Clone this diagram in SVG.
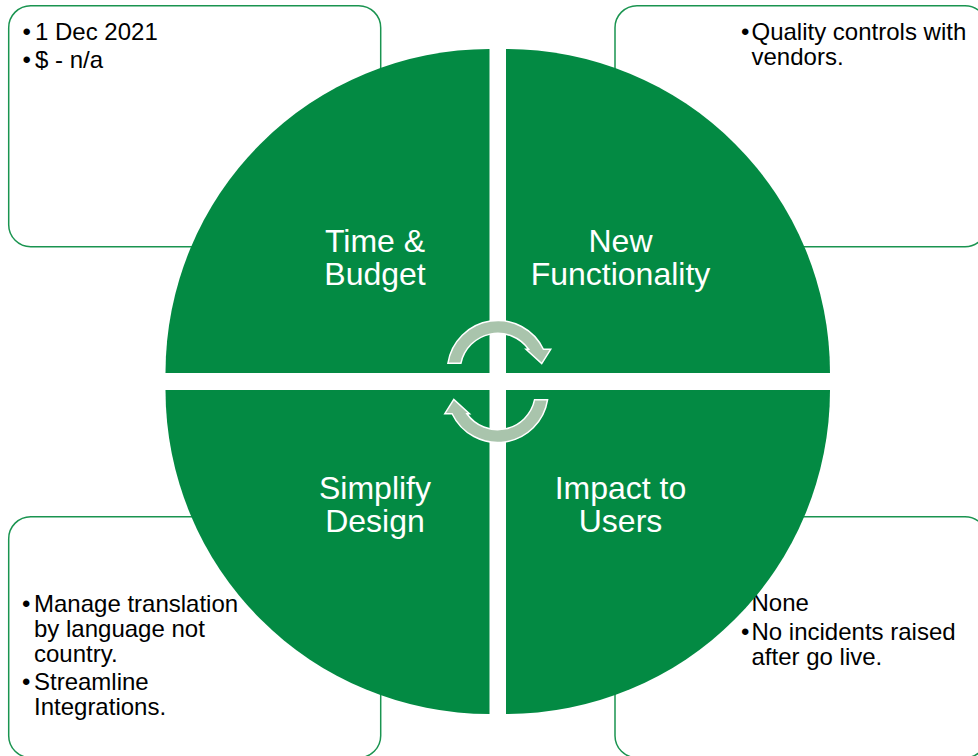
<svg xmlns="http://www.w3.org/2000/svg" width="978" height="756" viewBox="0 0 978 756">
  <style>
    .box { fill: #ffffff; stroke: #1a9450; stroke-width: 1.5; }
    .quad { fill: #038a43; }
    .label { font-family: "Liberation Sans", Arial, sans-serif; font-size: 32px; fill: #ffffff; text-anchor: middle; }
    .note { font-family: "Liberation Sans", Arial, sans-serif; font-size: 24px; fill: #000000; }
    .cycle { fill: #a9c4ac; stroke: #ffffff; stroke-width: 1.5; stroke-linejoin: miter; }
  </style>
  <defs>
    <path id="cycleArrow" d="M 447.9,363.3 A 50.5 50.5 0 0 1 543.4,349.3 L 550.7,349.3 L 541.7,363.6 L 526,349.3 L 528.6,349.3 A 37.7 37.7 0 0 0 460.9,363.3 Z"/>
  </defs>

  <!-- detail boxes (behind the circle) -->
  <g id="box-time-budget">
    <rect class="box" x="8.7" y="5.7" width="372" height="241" rx="22"/>
    <text class="note" x="22.5" y="40">•</text>
    <text class="note" x="35" y="40">1 Dec 2021</text>
    <text class="note" x="22.5" y="68">•</text>
    <text class="note" x="35" y="68">$ - n/a</text>
  </g>
  <g id="box-new-functionality">
    <rect class="box" x="615" y="5.7" width="372" height="241" rx="22"/>
    <text class="note" x="741" y="39.5">•</text>
    <text class="note" x="751.5" y="39.5">Quality controls with</text>
    <text class="note" x="751.5" y="64.5">vendors.</text>
  </g>
  <g id="box-simplify-design">
    <rect class="box" x="8.7" y="516.7" width="372" height="241" rx="22"/>
    <text class="note" x="22" y="611.5">•</text>
    <text class="note" x="34" y="611.5">Manage translation</text>
    <text class="note" x="34" y="636.5">by language not</text>
    <text class="note" x="34" y="661.5">country.</text>
    <text class="note" x="22" y="690">•</text>
    <text class="note" x="34" y="690">Streamline</text>
    <text class="note" x="34" y="715">Integrations.</text>
  </g>
  <g id="box-impact-users">
    <rect class="box" x="615" y="516.7" width="372" height="241" rx="22"/>
    <text class="note" x="741" y="611">•</text>
    <text class="note" x="751.5" y="611">None</text>
    <text class="note" x="741" y="639.5">•</text>
    <text class="note" x="751.5" y="639.5">No incidents raised</text>
    <text class="note" x="751.5" y="664.5">after go live.</text>
  </g>

  <!-- quadrants of the circle -->
  <g id="quad-time-budget">
    <path class="quad" d="M 489.5,373 L 165.5,373 A 324 324 0 0 1 489.5,49 Z"/>
    <text class="label" x="375" y="252">Time &amp;</text>
    <text class="label" x="375" y="285">Budget</text>
  </g>
  <g id="quad-new-functionality">
    <path class="quad" d="M 506,373 L 506,49 A 324 324 0 0 1 830,373 Z"/>
    <text class="label" x="620.5" y="252">New</text>
    <text class="label" x="620.5" y="285">Functionality</text>
  </g>
  <g id="quad-impact-users">
    <path class="quad" d="M 506,390 L 830,390 A 324 324 0 0 1 506,714 Z"/>
    <text class="label" x="620.5" y="498.5">Impact to</text>
    <text class="label" x="620.5" y="532">Users</text>
  </g>
  <g id="quad-simplify-design">
    <path class="quad" d="M 489.5,390 L 489.5,714 A 324 324 0 0 1 165.5,390 Z"/>
    <text class="label" x="375" y="498.5">Simplify</text>
    <text class="label" x="375" y="532">Design</text>
  </g>

  <!-- circular arrows in the middle -->
  <g id="connectors">
    <use href="#cycleArrow" class="cycle"/>
    <use href="#cycleArrow" class="cycle" transform="rotate(180 497.75 381.5)"/>
  </g>
</svg>
